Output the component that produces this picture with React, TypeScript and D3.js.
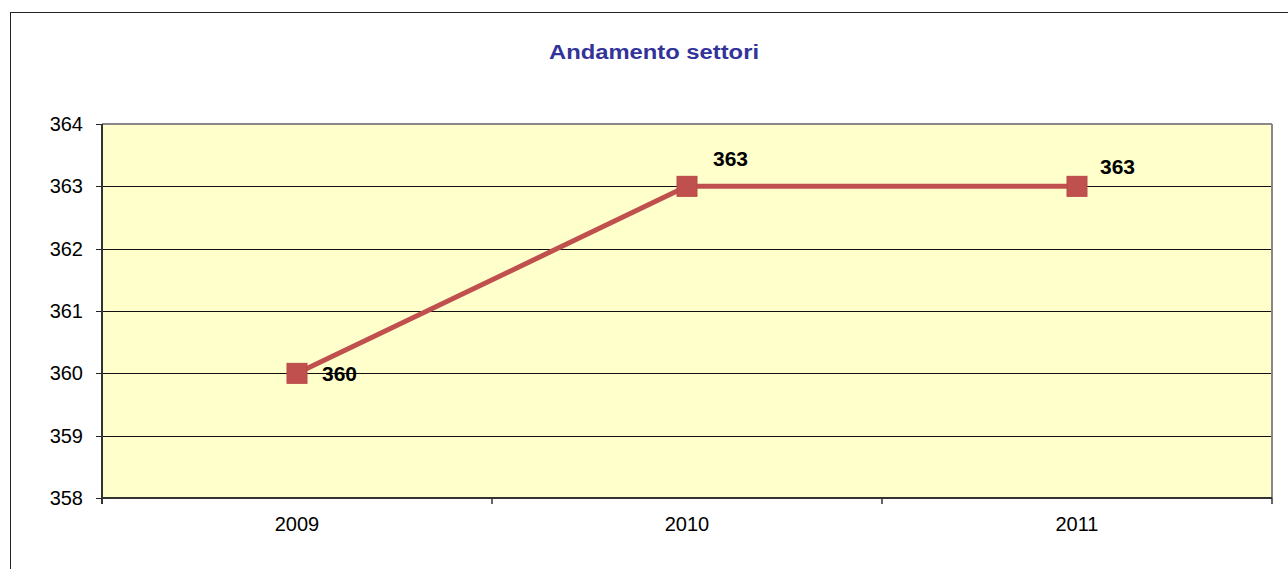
import React from "react";
import * as d3 from "d3";

const categories = ["2009", "2010", "2011"];
const values = [360, 363, 363];
const yTicks = [358, 359, 360, 361, 362, 363, 364];
const title = "Andamento settori";
// label offsets (dx, dy) relative to each point
const labelOffsets: [number, number][] = [
  [25, 8],
  [26, -20],
  [23, -12],
];

const W = 1288;
const H = 569;
const margin = { left: 102, top: 124, right: 1272, bottom: 498 };

export default function App() {
  const x = d3
    .scaleBand<string>()
    .domain(categories)
    .range([margin.left, margin.right])
    .paddingInner(0)
    .paddingOuter(0);
  const y = d3.scaleLinear().domain([358, 364]).range([margin.bottom, margin.top]);
  const cx = (c: string) => (x(c) as number) + x.bandwidth() / 2;
  const crisp = (v: number) => Math.round(v) + 0.5;
  const line = d3
    .line<number>()
    .x((_, i) => cx(categories[i]))
    .y((d) => y(d));
  const boundaries = [...categories.map((c) => x(c) as number), margin.right];

  return (
    <svg
      width={W}
      height={H}
      style={{ position: "absolute", left: 0, top: 0, background: "#fff" }}
      fontFamily="'Liberation Sans', Arial, sans-serif"
    >
      <rect x={10.5} y={12.5} width={1300} height={600} fill="#fff" stroke="#222" strokeWidth={1} />
      <text
        x={654}
        y={59}
        textAnchor="middle"
        fontSize={20}
        fontWeight="bold"
        fill="#333399"
        textLength={210}
        lengthAdjust="spacingAndGlyphs"
      >
        {title}
      </text>
      <rect
        x={margin.left}
        y={margin.top}
        width={margin.right - margin.left}
        height={margin.bottom - margin.top}
        fill="#FFFFCC"
      />
      {yTicks.map((t) => (
        <g key={t}>
          {t !== 364 && t !== 358 && (
            <line x1={margin.left} x2={margin.right} y1={crisp(y(t))} y2={crisp(y(t))} stroke="#111" strokeWidth={1} />
          )}
          <line x1={margin.left - 6} x2={margin.left} y1={crisp(y(t))} y2={crisp(y(t))} stroke="#222" strokeWidth={1} />
          <text x={83} y={y(t) + 7} textAnchor="end" fontSize={20} fill="#000">
            {t}
          </text>
        </g>
      ))}
      {/* plot area border top/right */}
      <line x1={margin.left} x2={margin.right} y1={margin.top} y2={margin.top} stroke="#888" strokeWidth={2} />
      <line x1={margin.right} x2={margin.right} y1={margin.top} y2={margin.bottom} stroke="#888" strokeWidth={2} />
      {/* axes */}
      <line x1={margin.left} x2={margin.left} y1={margin.top} y2={margin.bottom + 6} stroke="#333" strokeWidth={2} />
      <line x1={margin.left} x2={margin.right} y1={margin.bottom} y2={margin.bottom} stroke="#333" strokeWidth={2} />
      {boundaries.map((b, i) => (
        <line key={i} x1={b} x2={b} y1={margin.bottom} y2={margin.bottom + 6} stroke="#333" strokeWidth={1.5} />
      ))}
      {categories.map((c) => (
        <text key={c} x={cx(c)} y={531} textAnchor="middle" fontSize={20} fill="#000">
          {c}
        </text>
      ))}
      <path d={line(values) || ""} fill="none" stroke="#C0504D" strokeWidth={5} />
      {values.map((v, i) => (
        <rect
          key={i}
          x={cx(categories[i]) - 10}
          y={y(v) - 10}
          width={20}
          height={20}
          fill="#C0504D"
          stroke="#B94A47"
          strokeWidth={1}
        />
      ))}
      {values.map((v, i) => (
        <text
          key={i}
          x={cx(categories[i]) + labelOffsets[i][0]}
          y={y(v) + labelOffsets[i][1]}
          fontSize={21}
          fontWeight="bold"
          fill="#000"
        >
          {v}
        </text>
      ))}
    </svg>
  );
}
